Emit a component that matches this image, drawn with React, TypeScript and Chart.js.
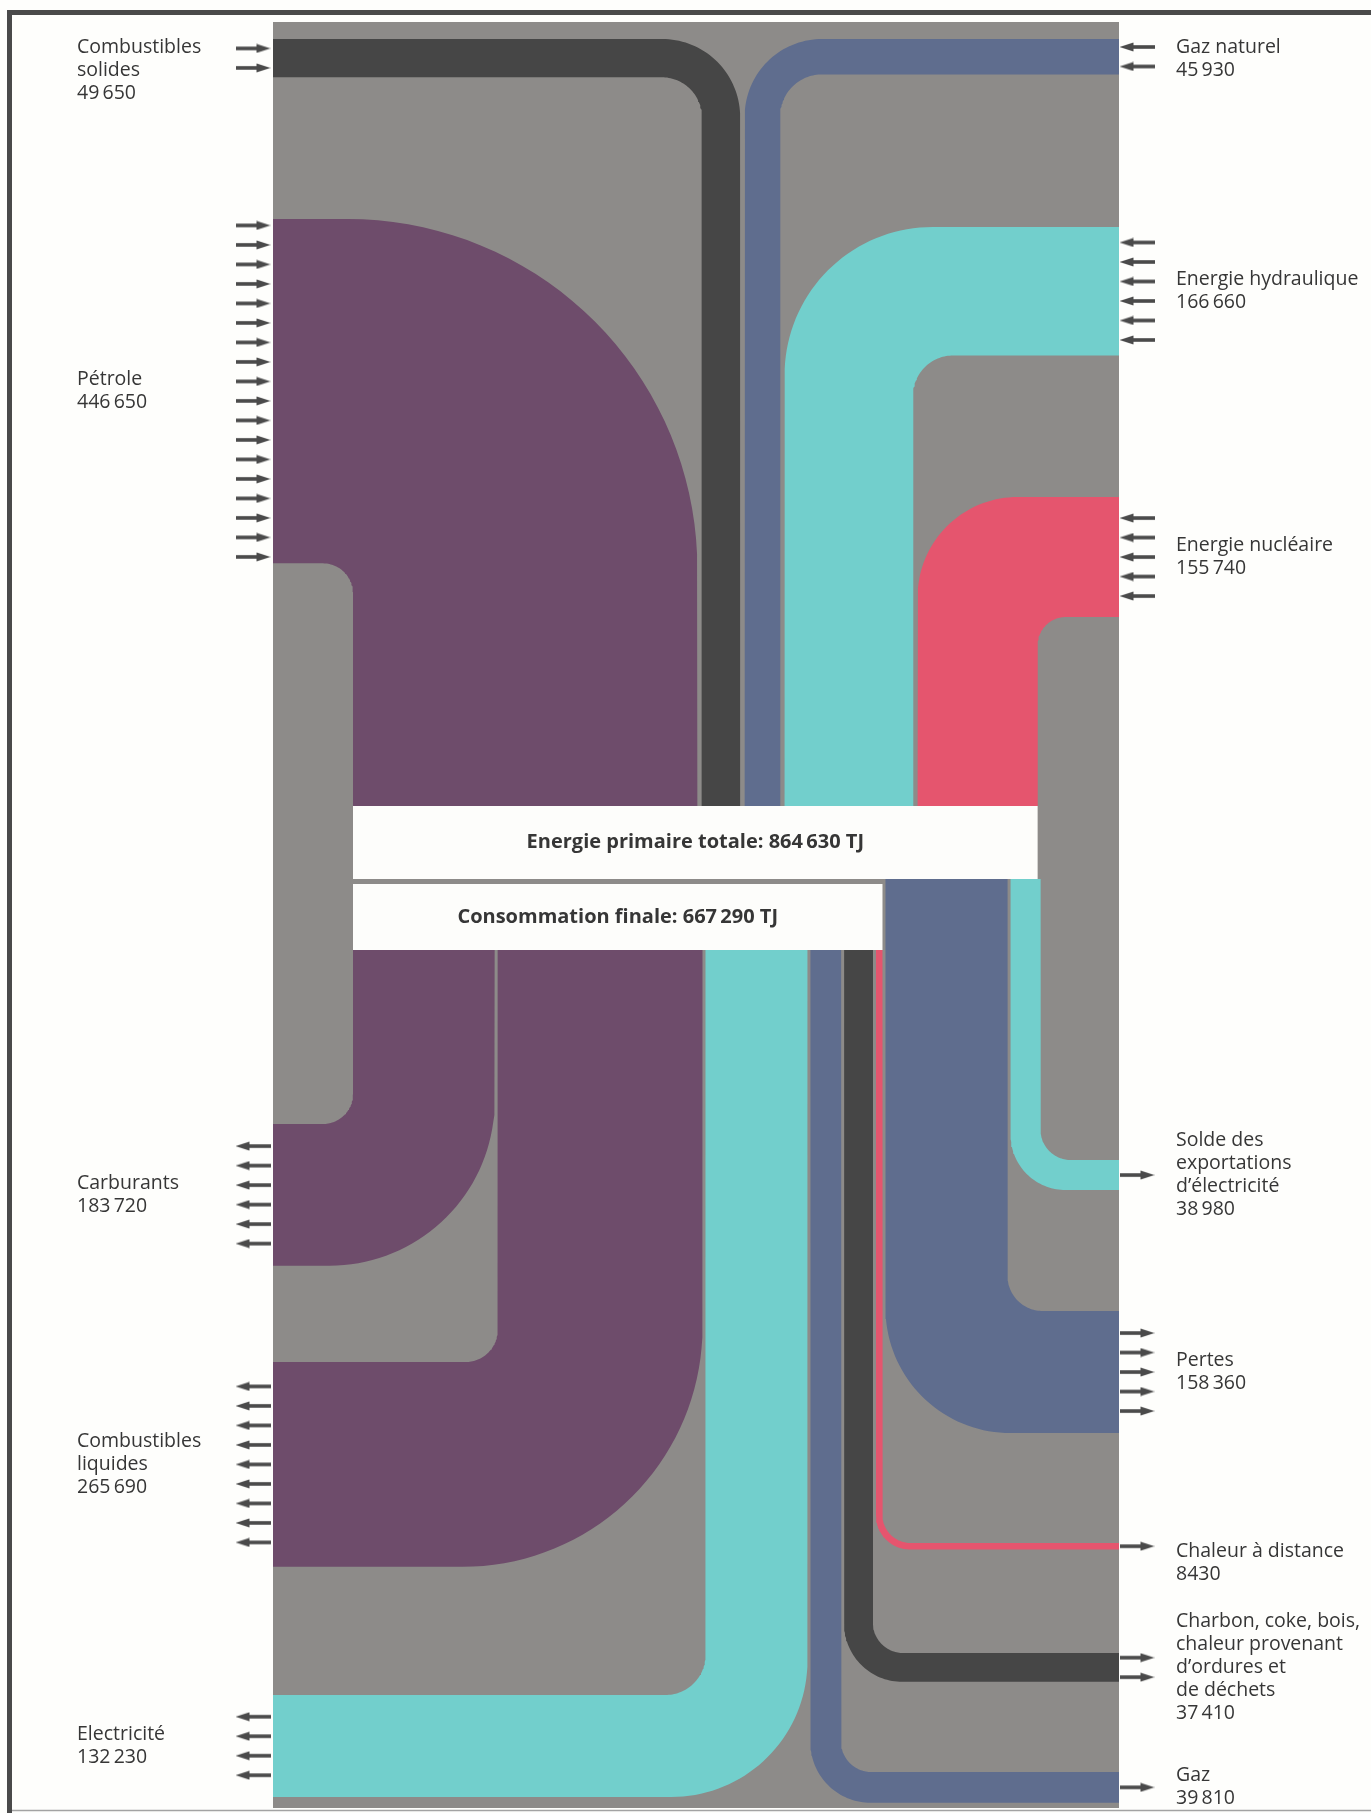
import React, { useEffect, useRef } from 'react';
import { Chart, registerables } from 'chart.js';

Chart.register(...registerables);

// ================= DATA (TJ) =================
const PRIMARY_TOTAL = 864630;
const FINAL_TOTAL = 667290;

// primary energy, in the order the bands sit in the central column (left -> right)
const INPUT_LABELS: string[][] = [
  ['Pétrole'],
  ['Combustibles', 'solides'],
  ['Gaz naturel'],
  ['Energie hydraulique'],
  ['Energie nucléaire'],
];
const INPUT_VALUES = [446650, 49650, 45930, 166660, 155740];

// uses of energy, in the order the bands sit below the boxes (left -> right)
const OUTPUT_LABELS: string[][] = [
  ['Carburants'],
  ['Combustibles', 'liquides'],
  ['Electricité'],
  ['Gaz'],
  ['Charbon, coke, bois,', 'chaleur provenant', 'd’ordures et', 'de déchets'],
  ['Chaleur à distance'],
  ['Pertes'],
  ['Solde des', 'exportations', 'd’électricité'],
];
const OUTPUT_VALUES = [183720, 265690, 132230, 39810, 37410, 8430, 158360, 38980];

// ================= LAYOUT =================
const W = 1371;
const H = 1813;
const PX_PER_TJ = 0.000771;
const PANEL_L = 273, PANEL_R = 1119, PANEL_T = 22, PANEL_B = 1808;
const COLUMN_L = 353;
const GAP_TOP = 4.5;
const GAP_BOTTOM = 3;
const BOX1_T = 806, BOX1_B = 879, BOX2_T = 884, BOX2_B = 950;

const INPUT_SIDE = ['L', 'L', 'R', 'R', 'R'];
const INPUT_ENTRY_TOP = [219, 39, 39, 227, 497];
const INPUT_R_IN = [30, 40, 42, 40, 28];
const INPUT_R_OUT = [350, 78, 78, 148, 100];
const INPUT_ARROWS = [18, 2, 2, 6, 5];
const INPUT_LABEL_ALIGN = ['center', 'top', 'top', 'center', 'center'];

const OUTPUT_SIDE = ['L', 'L', 'L', 'R', 'R', 'R', 'R', 'R'];
const OUTPUT_EXIT_TOP = [1124, 1362, 1695, 1772, 1653, 1543, 1311, 1160];
const OUTPUT_R_IN = [30, 32, 40, 30, 30, 28, 35, 30];
const OUTPUT_R_OUT = [165, 240, 136, 60, 58, 34, 125, 55];
const OUTPUT_ARROWS = [6, 9, 4, 1, 2, 1, 5, 1];
const OUTPUT_LABEL_ALIGN = ['center', 'center', 'center', 'center', 'center', 'top', 'center', 'center'];

const ARROW_STEP = 19.5;
const ARROW_X_L = 253;
const ARROW_X_R = 1137;
const LABEL_X_L = 77;
const LABEL_X_R = 1176;
const LINE_H = 23;
const LABEL_TOP_OFFSET = 8;

// ================= STYLE =================
const PURPLE = '#6e4c6b';
const DARK = '#464646';
const BLUE = '#5f6d8e';
const CYAN = '#72cfcc';
const RED = '#e5556e';
const PANEL = '#8d8b89';
const BOX = '#fdfdfb';
const INK = '#363636';
const FRAME = '#4a4a4a';
const INPUT_COLORS = [PURPLE, DARK, BLUE, CYAN, RED];
const OUTPUT_COLORS = [PURPLE, PURPLE, CYAN, BLUE, DARK, RED, BLUE, CYAN];
const LABEL_FONT = '19.5px "Open Sans", "Liberation Sans", sans-serif';
const BOX_FONT = 'bold 20px "Open Sans", "Liberation Sans", Arial, sans-serif';

// ================= helpers =================
type P = { x: number; y: number };

function fmt(v: number): string {
  if (v < 10000) return String(v);
  const s = String(v);
  return s.slice(0, s.length - 3) + '\u2009' + s.slice(s.length - 3);
}

function arc(cx: number, cy: number, r: number, a0: number, a1: number, n = 36): P[] {
  const pts: P[] = [];
  for (let i = 0; i <= n; i++) {
    const a = ((a0 + ((a1 - a0) * i) / n) * Math.PI) / 180;
    pts.push({ x: cx + r * Math.cos(a), y: cy + r * Math.sin(a) });
  }
  return pts;
}

function inputShape(side: string, x: number, w: number, t: number, ri: number, ro: number): P[] {
  if (side === 'L') {
    return [
      { x: PANEL_L, y: t },
      ...arc(x + w - ro, t + ro, ro, -90, 0),
      { x: x + w, y: BOX1_T },
      { x: x, y: BOX1_T },
      ...arc(x - ri, t + w + ri, ri, 0, -90),
      { x: PANEL_L, y: t + w },
    ];
  }
  return [
    { x: PANEL_R, y: t },
    ...arc(x + ro, t + ro, ro, -90, -180),
    { x: x, y: BOX1_T },
    { x: x + w, y: BOX1_T },
    ...arc(x + w + ri, t + w + ri, ri, 180, 270),
    { x: PANEL_R, y: t + w },
  ];
}

function outputShape(side: string, x: number, w: number, y0: number, t: number, ri: number, ro: number): P[] {
  if (side === 'L') {
    return [
      { x: x, y: y0 },
      { x: x + w, y: y0 },
      ...arc(x + w - ro, t + w - ro, ro, 0, 90),
      { x: PANEL_L, y: t + w },
      { x: PANEL_L, y: t },
      ...arc(x - ri, t - ri, ri, 90, 0),
    ];
  }
  return [
    { x: x, y: y0 },
    { x: x + w, y: y0 },
    ...arc(x + w + ri, t - ri, ri, 180, 90),
    { x: PANEL_R, y: t },
    { x: PANEL_R, y: t + w },
    ...arc(x + ro, t + w - ro, ro, 90, 180),
  ];
}

function rect(l: number, t: number, r: number, b: number): P[] {
  return [{ x: l, y: t }, { x: r, y: t }, { x: r, y: b }, { x: l, y: b }];
}

function makeArrow(dir: 'right' | 'left'): HTMLCanvasElement {
  const c = document.createElement('canvas');
  c.width = 35;
  c.height = 10;
  const g = c.getContext('2d')!;
  g.fillStyle = FRAME;
  g.save();
  if (dir === 'left') {
    g.translate(35, 0);
    g.scale(-1, 1);
  }
  g.fillRect(0, 3.2, 24, 3.6);
  g.beginPath();
  g.moveTo(21, 0.6);
  g.lineTo(35, 5);
  g.lineTo(21, 9.4);
  g.closePath();
  g.fill();
  g.restore();
  return c;
}

function arrowYs(center: number, n: number): number[] {
  const ys: number[] = [];
  for (let j = 0; j < n; j++) ys.push(center + (j - (n - 1) / 2) * ARROW_STEP);
  return ys;
}

// ================= geometry from values =================
function buildGeometry() {
  const bands: { pts: P[]; color: string }[] = [];
  const arrowsR: P[] = [];
  const arrowsL: P[] = [];
  const labels: { x: number; y0: number; lines: string[] }[] = [];

  // inputs
  let x = COLUMN_L;
  INPUT_VALUES.forEach((v, i) => {
    const w = v * PX_PER_TJ;
    const t = INPUT_ENTRY_TOP[i];
    const side = INPUT_SIDE[i];
    bands.push({ pts: inputShape(side, x, w, t, INPUT_R_IN[i], Math.min(INPUT_R_OUT[i], w + INPUT_R_IN[i])), color: INPUT_COLORS[i] });
    const c = t + w / 2;
    arrowYs(c, INPUT_ARROWS[i]).forEach((y) => {
      if (side === 'L') arrowsR.push({ x: ARROW_X_L, y });
      else arrowsL.push({ x: ARROW_X_R, y });
    });
    const lines = [...INPUT_LABELS[i], fmt(v)];
    const y0 = INPUT_LABEL_ALIGN[i] === 'top' ? t + LABEL_TOP_OFFSET : c - ((lines.length - 1) * LINE_H) / 2;
    labels.push({ x: side === 'L' ? LABEL_X_L : LABEL_X_R, y0, lines });
    x += w + GAP_TOP;
  });
  const box1R = x - GAP_TOP;

  // outputs
  x = COLUMN_L;
  let cum = 0;
  let box2R = COLUMN_L;
  OUTPUT_VALUES.forEach((v, i) => {
    const w = v * PX_PER_TJ;
    const isFinal = cum + v <= FINAL_TOTAL;
    const y0 = isFinal ? BOX2_B : BOX1_B;
    const t = OUTPUT_EXIT_TOP[i];
    const side = OUTPUT_SIDE[i];
    bands.push({ pts: outputShape(side, x, w, y0, t, OUTPUT_R_IN[i], OUTPUT_R_OUT[i]), color: OUTPUT_COLORS[i] });
    const c = t + w / 2;
    arrowYs(c, OUTPUT_ARROWS[i]).forEach((y) => {
      if (side === 'L') arrowsL.push({ x: ARROW_X_L, y });
      else arrowsR.push({ x: ARROW_X_R, y });
    });
    const lines = [...OUTPUT_LABELS[i], fmt(v)];
    const ly0 = OUTPUT_LABEL_ALIGN[i] === 'top' ? t + LABEL_TOP_OFFSET : c - ((lines.length - 1) * LINE_H) / 2;
    labels.push({ x: side === 'L' ? LABEL_X_L : LABEL_X_R, y0: ly0, lines });
    if (isFinal) box2R = x + w;
    cum += v;
    x += w + GAP_BOTTOM;
  });

  return { bands, arrowsR, arrowsL, labels, box1R, box2R };
}

function resetPage() {
  if (typeof document === 'undefined' || !document.body) return;
  document.documentElement.style.margin = '0';
  document.documentElement.style.overflow = 'hidden';
  document.body.style.margin = '0';
  document.body.style.overflow = 'hidden';
  document.body.style.background = '#fefefc';
}

export default function App() {
  const ref = useRef<HTMLCanvasElement>(null);

  useEffect(() => {
    resetPage();
    const geo = buildGeometry();
    const arrowRight = makeArrow('right');
    const arrowLeft = makeArrow('left');

    const shape = (label: string, pts: P[], color: string, order: number) => ({
      label,
      data: pts,
      showLine: true,
      fill: 'shape',
      backgroundColor: color,
      borderColor: color,
      borderWidth: 0,
      pointRadius: 0,
      pointHoverRadius: 0,
      order,
    });

    const datasets: any[] = [];
    datasets.push(shape('panel', rect(PANEL_L, PANEL_T, PANEL_R, PANEL_B), PANEL, 10));
    geo.bands.forEach((b, i) => datasets.push(shape('band' + i, b.pts, b.color, 5)));
    datasets.push(shape('box1', rect(COLUMN_L, BOX1_T, geo.box1R, BOX1_B), BOX, 3));
    datasets.push(shape('box2', rect(COLUMN_L, BOX2_T, geo.box2R, BOX2_B), BOX, 3));
    datasets.push({ label: 'arrowsR', data: geo.arrowsR, pointStyle: arrowRight, pointRadius: 1, pointBorderWidth: 0, showLine: false, order: 2 });
    datasets.push({ label: 'arrowsL', data: geo.arrowsL, pointStyle: arrowLeft, pointRadius: 1, pointBorderWidth: 0, showLine: false, order: 2 });
    datasets.push({
      label: 'frame',
      data: [{ x: 9.5, y: H }, { x: 9.5, y: 12.5 }, { x: W, y: 12.5 }],
      showLine: true,
      fill: false,
      borderColor: FRAME,
      borderWidth: 5,
      borderJoinStyle: 'miter',
      pointRadius: 0,
      order: 1,
    });
    datasets.push({
      label: 'frameBottom',
      data: [{ x: 9.5, y: 1810.5 }, { x: W, y: 1810.5 }],
      showLine: true,
      fill: false,
      borderColor: '#a3a3a3',
      borderWidth: 1.5,
      pointRadius: 0,
      order: 1,
    });

    const textPlugin = {
      id: 'flowText',
      afterDatasetsDraw(chart: any) {
        const { ctx } = chart;
        const sx = chart.scales.x;
        const sy = chart.scales.y;
        ctx.save();
        ctx.fillStyle = INK;
        ctx.textBaseline = 'middle';
        ctx.textAlign = 'left';
        ctx.font = LABEL_FONT;
        geo.labels.forEach((lab) => {
          lab.lines.forEach((s, k) => {
            ctx.fillText(s, sx.getPixelForValue(lab.x), sy.getPixelForValue(lab.y0 + k * LINE_H));
          });
        });
        ctx.font = BOX_FONT;
        ctx.textAlign = 'center';
        ctx.fillText(
          `Energie primaire totale: ${fmt(PRIMARY_TOTAL)} TJ`,
          sx.getPixelForValue((COLUMN_L + geo.box1R) / 2),
          sy.getPixelForValue((BOX1_T + BOX1_B) / 2)
        );
        ctx.fillText(
          `Consommation finale: ${fmt(FINAL_TOTAL)} TJ`,
          sx.getPixelForValue((COLUMN_L + geo.box2R) / 2),
          sy.getPixelForValue((BOX2_T + BOX2_B) / 2)
        );
        ctx.restore();
      },
    };

    const chart = new Chart(ref.current!, {
      type: 'scatter',
      data: { datasets },
      options: {
        animation: false,
        responsive: false,
        devicePixelRatio: 1,
        events: [],
        layout: { padding: 0, autoPadding: false },
        plugins: {
          legend: { display: false },
          tooltip: { enabled: false },
          title: { display: false },
        },
        scales: {
          x: { type: 'linear', min: 0, max: W, display: false, bounds: 'data' },
          y: { type: 'linear', min: 0, max: H, reverse: true, display: false, bounds: 'data' },
        },
      },
      plugins: [textPlugin],
    } as any);
    return () => chart.destroy();
  }, []);

  return (
    <div style={{ width: W, height: H, margin: 0, padding: 0, background: '#fefefc', overflow: 'hidden' }}>
      <canvas ref={ref} width={W} height={H} style={{ display: 'block', width: W, height: H }} />
    </div>
  );
}
